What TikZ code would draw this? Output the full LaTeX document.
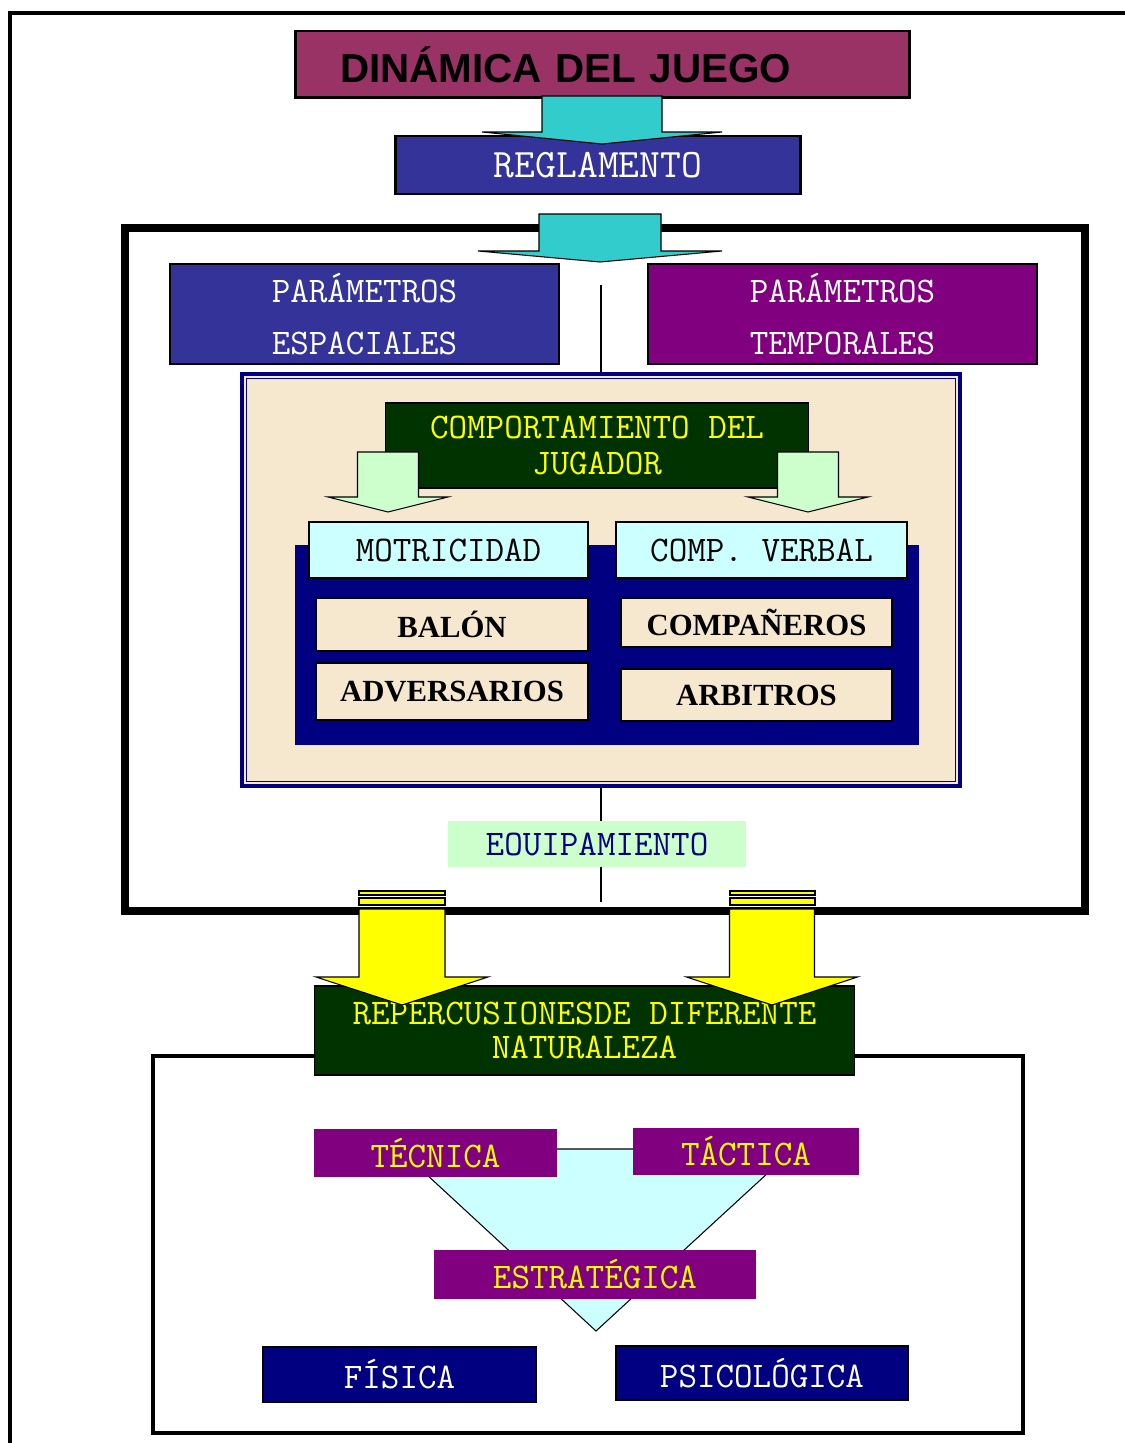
\documentclass[tikz,border=0pt]{standalone}
\usepackage{fontspec}
\setmainfont{Liberation Serif}
\setsansfont{Liberation Sans}
\usepackage{tikz}
\usepackage{xcolor}
\definecolor{titlered}{HTML}{993366}
\definecolor{regblue}{HTML}{333399}
\definecolor{tempurple}{HTML}{800080}
\definecolor{arrowcyan}{HTML}{33CCCC}
\definecolor{parchment}{HTML}{F6E8CF}
\definecolor{darkgreen}{HTML}{003300}
\definecolor{palegreen}{HTML}{CCFFCC}
\definecolor{palecyan}{HTML}{CCFFFF}
\definecolor{navyblue}{HTML}{000080}
\definecolor{signyellow}{HTML}{FFFF00}

% colour, x, top, head, tip, half shaft, half head
\newcommand{\blockarrow}[7]{%
  \filldraw[fill=#1, draw=black, line width=0.6pt]
    (#2-#6,#3) -- (#2+#6,#3) -- (#2+#6,#4) -- (#2+#7,#4) -- (#2,#5)
    -- (#2-#7,#4) -- (#2-#6,#4) -- cycle;}

\begin{document}
\begin{tikzpicture}[x=0.02cm, y=-0.02cm, line width=0.3mm,
    box/.style={rectangle, inner sep=0pt, align=center},
    mono/.style={font=\ttfamily\fontsize{20.5}{20.4}\selectfont},
    bold/.style={font=\rmfamily\bfseries\fontsize{17.5}{19}\selectfont}]
    \useasboundingbox (0,0) rectangle (1125,1443);
    \draw[line width=2.3pt] (10,1443) -- (10,13) -- (1125,13);

    \node[box, draw, fill=titlered, line width=1.7pt, minimum width=12.3cm,
          minimum height=1.34cm, text width=10.5cm, inner xsep=0.9cm, align=left,
          font=\sffamily\bfseries\fontsize{23}{25}\selectfont]
          (titulo) at (602.5,64.5) {DINÁMICA DEL JUEGO};
    \node[box, draw, fill=regblue, text=white, line width=1.7pt, minimum width=8.12cm,
          minimum height=1.16cm, font=\ttfamily\fontsize{23}{24}\selectfont]
          (reglamento) at (598,165) {REGLAMENTO};
    \blockarrow{arrowcyan}{602}{96}{132}{144}{60}{120}

    \node[box, draw, line width=3.4pt, minimum width=19.24cm, minimum height=13.7cm]
          (marco) at (605,569.5) {};
    \draw[line width=0.7pt] ([shift={(7,7)}]marco.north west)
          rectangle ([shift={(-7,-7)}]marco.south east);
    \coordinate (vtop) at (601,285);
    \coordinate (vbot) at (601,902);
    \draw[line width=0.6pt] (vtop) -- (vbot);
    \blockarrow{arrowcyan}{600}{214}{251}{262}{61}{122}

    \node[box, draw, fill=regblue, text=white, font=\ttfamily\fontsize{20.5}{30}\selectfont,
          line width=0.8pt, minimum width=7.78cm, minimum height=2cm]
          (espaciales) at (364.5,314) {PARÁMETROS\\ESPACIALES};
    \node[box, draw, fill=tempurple, text=white, font=\ttfamily\fontsize{20.5}{30}\selectfont,
          line width=0.8pt, minimum width=7.78cm, minimum height=2cm]
          (temporales) at (842.5,314) {PARÁMETROS\\TEMPORALES};

    \node[box, draw=navyblue, fill=parchment, line width=1.8pt, minimum width=14.36cm,
          minimum height=8.24cm] (pergamino) at (601,580) {};
    \draw[navyblue, line width=0.6pt] ([shift={(6,6)}]pergamino.north west)
          rectangle ([shift={(-6,-6)}]pergamino.south east);
    \node[box, draw, fill=darkgreen, text=signyellow, mono, line width=0.6pt,
          minimum width=8.48cm, minimum height=1.7cm]
          (jugador) at (597,445.5) {COMPORTAMIENTO DEL\\JUGADOR};
    \blockarrow{palegreen}{388}{452}{497}{512}{30.5}{60}
    \blockarrow{palegreen}{808}{452}{497}{512}{30.5}{60}

    \node[box, fill=navyblue, minimum width=12.48cm, minimum height=4cm]
          (panel) at (607,645) {};
    \node[box, draw, fill=palecyan, mono, line width=0.8pt, minimum width=5.58cm,
          minimum height=1.12cm] (motricidad) at (448.5,550) {MOTRICIDAD};
    \node[box, draw, fill=palecyan, mono, line width=0.8pt, minimum width=5.82cm,
          minimum height=1.12cm] (verbal) at (761.5,550) {COMP. VERBAL};
    \node[box, draw, fill=parchment, bold, line width=1.2pt, minimum width=5.44cm,
          minimum height=1.06cm] (balon) at (452,624.5) {BALÓN};
    \node[box, draw, fill=parchment, bold, line width=1.2pt, minimum width=5.44cm,
          minimum height=1.14cm] (adversarios) at (452,691.5) {ADVERSARIOS};
    \node[box, draw, fill=parchment, bold, line width=1.2pt, minimum width=5.42cm,
          minimum height=0.98cm] (companeros) at (756.5,622.5) {COMPAÑEROS};
    \node[box, draw, fill=parchment, bold, line width=1.2pt, minimum width=5.42cm,
          minimum height=1.04cm] (arbitros) at (756.5,695) {ARBITROS};

    \node[box, fill=palegreen, text=navyblue, mono, minimum width=5.96cm,
          minimum height=0.92cm] (equipamiento) at (597,844) {EOUIPAMIENTO};

    \node[box, draw, line width=2.3pt, minimum width=17.4cm, minimum height=7.54cm]
          (marcob) at (588,1244.5) {};
    \node[box, draw, fill=darkgreen, text=signyellow, font=\ttfamily\fontsize{20.5}{19.4}\selectfont,
          line width=0.6pt, minimum width=10.82cm, minimum height=1.78cm]
          (repercusiones) at (584.5,1030.5) {REPERCUSIONESDE DIFERENTE\\NATURALEZA};
    \filldraw[fill=signyellow, line width=0.6pt] (359,891) rectangle (445,895)
                                                 (359,898) rectangle (445,905);
    \filldraw[fill=signyellow, line width=0.6pt] (730,891) rectangle (815,895)
                                                 (730,898) rectangle (815,905);
    \blockarrow{signyellow}{402}{909}{977}{1005}{43}{86}
    \blockarrow{signyellow}{772}{909}{977}{1005}{42.5}{85.5}

    \filldraw[fill=palecyan, line width=0.6pt] (399,1149) -- (794,1149) -- (596,1331) -- cycle;
    \node[box, fill=tempurple, text=signyellow, mono, minimum width=4.86cm,
          minimum height=0.96cm] (tecnica) at (435.5,1153) {TÉCNICA};
    \node[box, fill=tempurple, text=signyellow, mono, minimum width=4.52cm,
          minimum height=0.94cm] (tactica) at (746,1151.5) {TÁCTICA};
    \node[box, fill=tempurple, text=signyellow, mono, minimum width=6.44cm,
          minimum height=0.98cm] (estrategica) at (595,1274.5) {ESTRATÉGICA};
    \node[box, draw, fill=navyblue, text=white, mono, line width=1.2pt, minimum width=5.46cm,
          minimum height=1.1cm] (fisica) at (399.5,1374.5) {FÍSICA};
    \node[box, draw, fill=navyblue, text=white, mono, line width=1.2pt, minimum width=5.84cm,
          minimum height=1.08cm] (psicologica) at (762,1373) {PSICOLÓGICA};
\end{tikzpicture}
\end{document}
